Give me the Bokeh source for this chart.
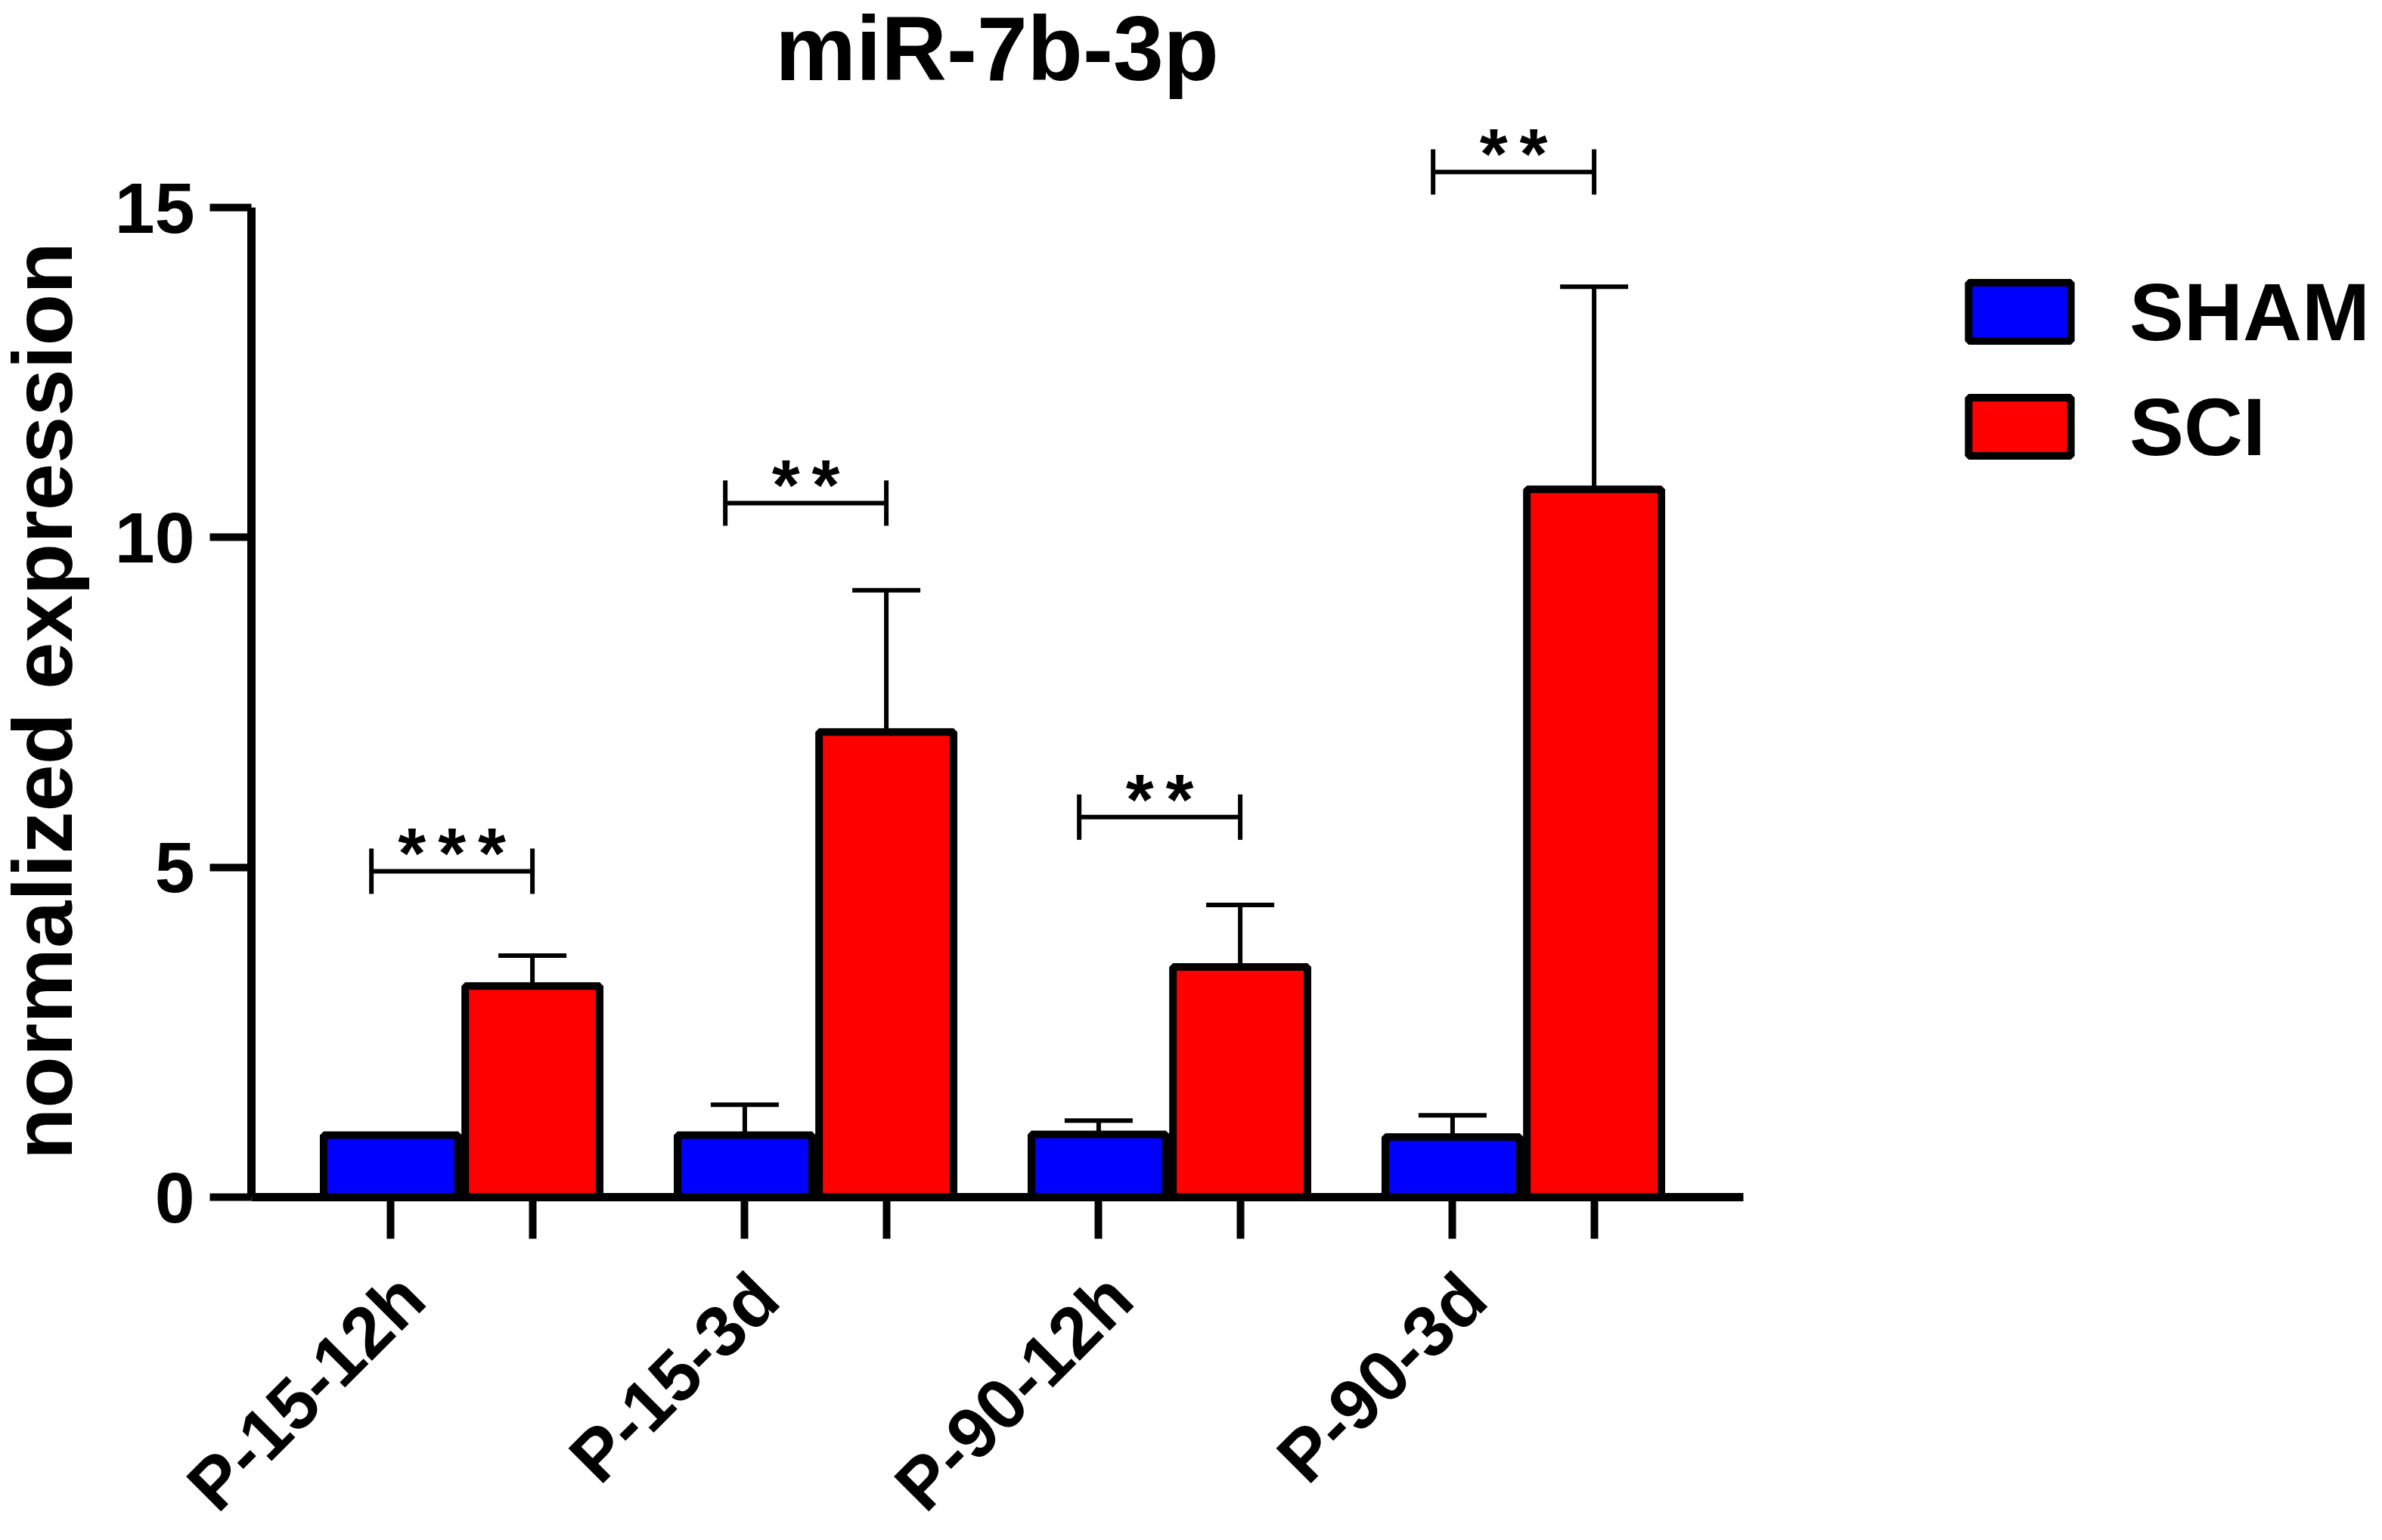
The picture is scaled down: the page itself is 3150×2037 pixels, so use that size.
import math
from bokeh.plotting import figure
from bokeh.models import (ColumnDataSource, Range1d, FixedTicker, Whisker, TeeHead,
                          Label, LabelSet, Legend, LegendItem)
from bokeh.core.properties import value
from bokeh.embed import file_html
from bokeh.resources import INLINE

# ---------------- data ----------------
title_text = "miR-7b-3p"
y_label = "normalized expression"
categories = ["P-15-12h", "P-15-3d", "P-90-12h", "P-90-3d"]
series = ["SHAM", "SCI"]
sham_mean = [0.94, 0.94, 0.95, 0.91]
sham_upper = [0.94, 1.40, 1.16, 1.24]
sci_mean = [3.20, 7.05, 3.49, 10.73]
sci_upper = [3.66, 9.20, 4.43, 13.80]
sig_labels = ["***", "**", "**", "**"]
sig_y = [4.94, 10.52, 5.76, 15.54]
y_ticks = [0, 5, 10, 15]

colors = {"SHAM": "#0000FF", "SCI": "#FF0000"}
FONT = "Liberation Sans"
OFF = 0.2       # bar offset from group centre
BAR_W = 0.38

# ---------------- layout (frame = whole canvas) ----------------
W, H = 3134, 2021
AXIS_PX = 332                  # pixel column of the y axis
ZERO_PX, TOP_PX = 1583, 274    # pixel rows of y=0 and y=15
PPU_X = 468.0
PPU_Y = (ZERO_PX - TOP_PX) / 15.0
X0 = -0.594                    # data x of the y axis
X_AXIS_END = 3.622
XS = X0 - AXIS_PX / PPU_X
XE = X0 + (W - AXIS_PX) / PPU_X
YS = -(H - ZERO_PX) / PPU_Y
YE = ZERO_PX / PPU_Y

idx = list(range(len(categories)))
x_sham = [i - OFF for i in idx]
x_sci = [i + OFF for i in idx]

p = figure(width=W, height=H, title=None,
           x_range=Range1d(XS, XE), y_range=Range1d(YS, YE),
           output_backend="svg", toolbar_location=None,
           min_border_left=0, min_border_right=0,
           min_border_top=0, min_border_bottom=0)
p.xgrid.visible = False
p.ygrid.visible = False
p.outline_line_color = None
p.background_fill_color = "white"
p.border_fill_color = "white"

def style_axis(ax, loc, bounds, ticks):
    ax.fixed_location = loc
    ax.bounds = bounds
    ax.ticker = FixedTicker(ticks=[], minor_ticks=ticks)
    ax.major_tick_out = 0
    ax.major_tick_in = 0
    ax.major_label_standoff = 0
    ax.minor_tick_out = 55
    ax.minor_tick_in = 0
    ax.minor_tick_line_width = 10
    ax.minor_tick_line_color = "black"
    ax.axis_line_width = 11
    ax.axis_line_color = "black"
    ax.axis_label_standoff = 0

style_axis(p.xaxis[0], 0, (X0, X_AXIS_END), sorted(x_sham + x_sci))
style_axis(p.yaxis[0], X0, (0, 15), y_ticks)

# y tick labels
ytl_src = ColumnDataSource(dict(x=[X0 - 75 / PPU_X] * len(y_ticks), y=y_ticks,
                                t=[str(t) for t in y_ticks]))
p.add_layout(LabelSet(source=ytl_src, x="x", y="y", text="t",
                      text_align="right", text_baseline="middle",
                      text_font=value(FONT), text_font_style="bold",
                      text_font_size="95px", text_color="black"))

# error bars (upper only)
def whisk(xs, means, uppers):
    b, lo, up = [], [], []
    for x, m, u in zip(xs, means, uppers):
        if u > m:
            b.append(x); lo.append(m); up.append(u)
    return ColumnDataSource(dict(base=b, lower=lo, upper=up))

for xs, means, uppers in ((x_sham, sham_mean, sham_upper), (x_sci, sci_mean, sci_upper)):
    p.add_layout(Whisker(source=whisk(xs, means, uppers), base="base", lower="lower",
                         upper="upper", dimension="height", line_width=6, line_color="black",
                         upper_head=TeeHead(size=90, line_width=6, line_color="black"),
                         lower_head=None, level="underlay"))

# bars
src_sham = ColumnDataSource(dict(x=x_sham, top=sham_mean))
src_sci = ColumnDataSource(dict(x=x_sci, top=sci_mean))
r_sham = p.vbar(x="x", top="top", bottom=0, width=BAR_W, source=src_sham,
                fill_color=colors["SHAM"], line_color="black", line_width=10)
r_sci = p.vbar(x="x", top="top", bottom=0, width=BAR_W, source=src_sci,
               fill_color=colors["SCI"], line_color="black", line_width=10)

# significance brackets
br_src = ColumnDataSource(dict(base=sig_y,
                               lower=[i - OFF - 0.055 for i in idx],
                               upper=[i + OFF for i in idx]))
p.add_layout(Whisker(source=br_src, base="base", lower="lower", upper="upper",
                     dimension="width", line_width=6, line_color="black",
                     upper_head=TeeHead(size=60, line_width=6, line_color="black"),
                     lower_head=TeeHead(size=60, line_width=6, line_color="black")))
star_src = ColumnDataSource(dict(x=[i - 0.0275 for i in idx],
                                 y=[v - 0.10 for v in sig_y],
                                 t=["\u2006".join(s) for s in sig_labels]))
p.add_layout(LabelSet(source=star_src, x="x", y="y", text="t",
                      text_align="center", text_baseline="alphabetic",
                      text_font=value(FONT), text_font_style="bold",
                      text_font_size="95px", text_color="black"))

# category labels (rotated 45 degrees)
cat_src = ColumnDataSource(dict(x=[i - 0.141 for i in idx],
                                y=[-1.341] * len(idx), t=categories))
p.add_layout(LabelSet(source=cat_src, x="x", y="y", text="t", angle=math.pi / 4,
                      text_align="right", text_baseline="middle",
                      text_font=value(FONT), text_font_style="bold",
                      text_font_size="95px", text_color="black"))

# title
p.add_layout(Label(x=1.513, y=17.41, text=title_text, text_align="center",
                   text_baseline="alphabetic", text_font=FONT, text_font_style="bold",
                   text_font_size="120px", text_color="black"))

# y-axis title
p.add_layout(Label(x=X0 - (AXIS_PX - 56) / PPU_X, y=7.52, text=y_label, angle=math.pi / 2,
                   text_align="center", text_baseline="alphabetic",
                   text_font=FONT, text_font_style="bold",
                   text_font_size="112px", text_color="black"))

legend = Legend(items=[LegendItem(label=series[0], renderers=[r_sham]),
                       LegendItem(label=series[1], renderers=[r_sci])],
                location=(2586, 1392), orientation="vertical",
                glyph_width=169, glyph_height=96, label_standoff=61,
                spacing=22, label_height=130, padding=0, margin=0,
                border_line_color=None, background_fill_alpha=0,
                label_text_font=FONT, label_text_font_style="bold",
                label_text_font_size="108px", label_text_color="black")
p.add_layout(legend)

open("out.html", "w").write(file_html(p, INLINE))
